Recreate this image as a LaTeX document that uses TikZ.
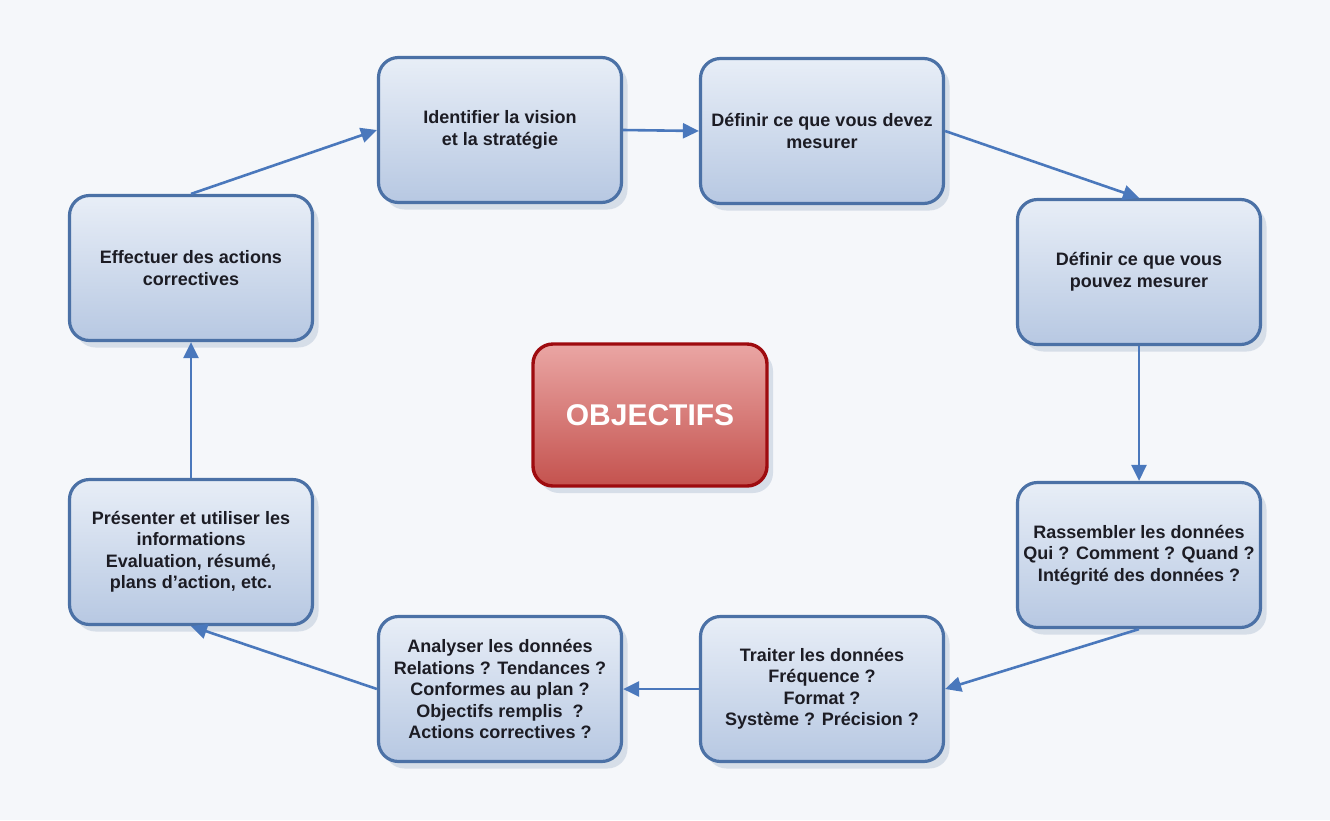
\documentclass[tikz,border=0pt]{standalone}
\usepackage{fontspec}
\setmainfont{Liberation Sans}
\usetikzlibrary{shadows,arrows.meta,calc}
\definecolor{bg}{HTML}{F5F7FA}
\definecolor{boxline}{HTML}{4B71A6}
\definecolor{boxtop}{HTML}{E8EEF7}
\definecolor{boxbot}{HTML}{B7C8E2}
\definecolor{arrowc}{HTML}{4A78BC}
\definecolor{redtop}{HTML}{EAA6A4}
\definecolor{redbot}{HTML}{C4524E}
\definecolor{redline}{HTML}{9E0B0F}
\definecolor{txt}{HTML}{1C1C24}
\definecolor{shadowc}{HTML}{9FB0C8}
\begin{document}
\begin{tikzpicture}[x=1pt,y=-1pt,
  stage/.style={draw=boxline, line width=3.2pt, rounded corners=20pt,
    minimum width=243pt, minimum height=145pt, top color=boxtop, bottom color=boxbot,
    align=center, font=\fontsize{18}{21.5}\selectfont\bfseries, text=txt, inner sep=0pt,
    drop shadow={shadow xshift=6pt, shadow yshift=-7pt, fill=shadowc, opacity=0.35}},
  goal/.style={draw=redline, line width=3.4pt, rounded corners=20pt,
    minimum width=234pt, minimum height=142pt, top color=redtop, bottom color=redbot,
    font=\fontsize{30}{34}\selectfont\bfseries, text=white, inner sep=0pt,
    drop shadow={shadow xshift=6pt, shadow yshift=-7pt, fill=shadowc, opacity=0.35}},
  flow/.style={draw=arrowc, line width=2.6pt, -{Triangle[length=16pt,width=15pt]}}]
\path[use as bounding box, fill=bg] (0,0) rectangle (1330,820);

\node[stage] (b1) at (500,130) {Identifier la vision\\et la stratégie};
\node[stage] (b2) at (822,131) {Définir ce que vous devez\\mesurer};
\node[stage] (b3) at (1139,272) {Définir ce que vous\\pouvez mesurer};
\node[stage] (b4) at (1139,555) {Rassembler les données\\Qui ? Comment ? Quand ?\\Intégrité des données ?};
\node[stage] (b5) at (822,689) {Traiter les données\\Fréquence ?\\Format ?\\Système ? Précision ?};
\node[stage] (b6) at (500,689) {Analyser les données\\Relations ? Tendances ?\\Conformes au plan ?\\Objectifs remplis\ \ ?\\Actions correctives ?};
\node[stage] (b7) at (191,552) {Présenter et utiliser les\\informations\\Evaluation, résumé,\\plans d'action, etc.};
\node[stage] (b8) at (191,268) {Effectuer des actions\\correctives};
\node[goal] (obj) at (650,415) {OBJECTIFS};

\draw[flow] (b8.north) -- (b1.west);
\draw[flow] (b1.east) -- (b2.west);
\draw[flow] (b2.east) -- (b3.north);
\draw[flow] (b3.south) -- (b4.north);
\draw[flow] (b4.south) -- (b5.east);
\draw[flow] (b5.west) -- (b6.east);
\draw[flow] (b6.west) -- (b7.south);
\draw[flow] (b7.north) -- (b8.south);
\end{tikzpicture}
\end{document}
